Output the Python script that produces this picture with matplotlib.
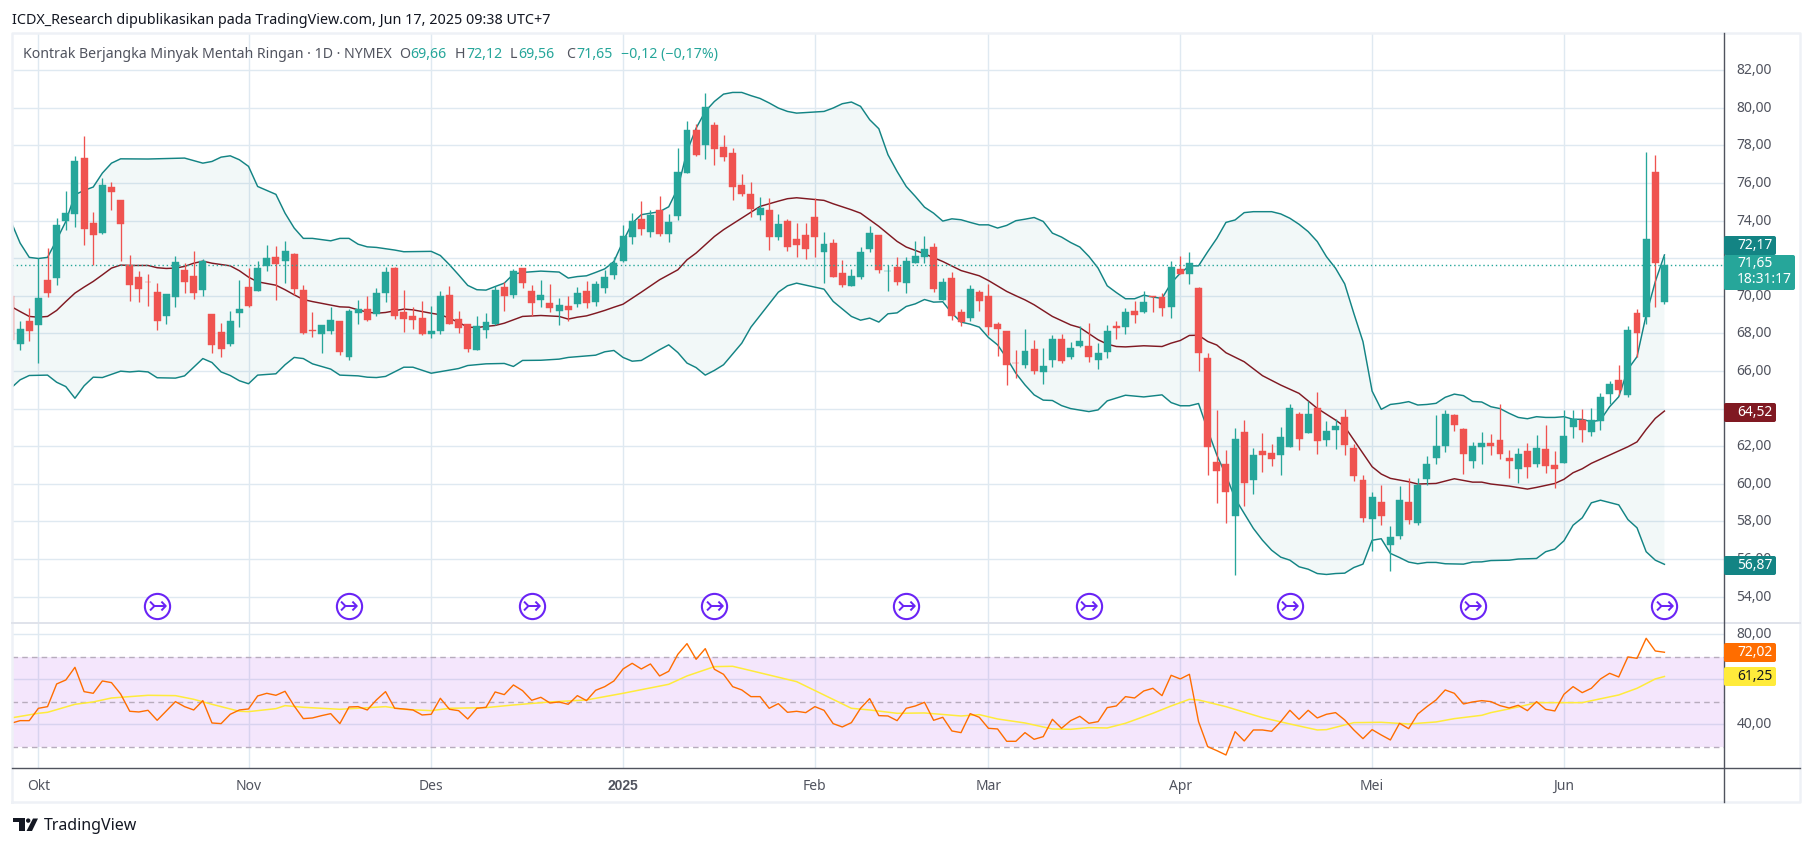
import matplotlib
matplotlib.use("Agg")
import matplotlib.pyplot as plt
from matplotlib.patches import Circle, FancyBboxPatch, Polygon
from matplotlib.transforms import ScaledTranslation

plt.rcParams['font.family'] = ['Noto Sans', 'DejaVu Sans']

# daily candles, index 0 is the first bar on the left edge
opens = [69.96,67.44,68.67,68.42,70.85,70.97,73.95,74.37,77.32,73.86,73.35,75.78,75.10,71.61,71.01,70.74,70.21,68.93,69.94,71.38,
         71.06,70.32,69.04,68.08,67.44,69.09,70.47,70.26,71.59,72.07,71.86,72.23,70.32,68.19,67.97,68.13,68.67,66.75,69.09,69.31,
         69.04,70.16,71.49,69.14,68.93,68.83,67.97,68.13,70.05,68.77,68.51,67.12,68.19,68.51,70.47,70.05,71.49,70.26,69.78,69.62,
         69.20,69.47,69.57,70.26,69.68,70.42,71.11,71.84,73.14,74.09,73.40,74.57,73.30,74.25,76.54,78.83,78.03,79.09,77.92,77.60,
         75.90,75.42,74.31,74.57,73.14,73.99,73.03,73.24,74.20,72.34,72.82,71.22,70.53,71.01,72.50,73.24,71.29,71.54,70.69,71.75,
         72.07,72.60,69.78,70.95,69.15,68.83,70.21,70.00,68.51,68.13,66.43,66.33,67.18,65.95,66.59,67.71,66.75,67.34,67.34,66.59,
         67.02,68.40,68.35,69.20,69.15,70.00,69.94,69.41,71.43,71.17,70.42,66.70,61.15,61.05,58.28,62.75,60.20,61.74,61.63,61.53,
         61.95,63.71,62.70,64.03,62.32,62.86,63.55,61.90,60.20,58.12,59.03,56.74,57.22,59.03,57.91,60.25,61.37,62.00,63.65,62.91,
         61.21,61.95,62.17,62.32,61.37,60.78,61.74,61.05,61.85,61.00,61.10,63.02,63.39,62.75,63.34,64.77,65.52,64.72,69.08,68.87,
         76.58,69.66]
highs = [69.96,68.67,69.34,72.00,72.53,74.13,75.58,77.44,78.51,74.47,76.26,76.06,75.10,72.18,71.29,71.17,70.69,70.10,72.12,71.75,
         72.39,71.96,69.04,68.56,69.20,70.85,71.49,71.86,72.71,72.66,72.92,72.27,70.58,69.14,68.45,69.41,68.67,69.31,69.78,70.00,
         70.42,71.54,71.54,70.32,69.41,69.73,69.47,70.26,70.53,69.20,68.51,68.93,69.09,70.53,70.74,71.43,71.49,70.58,70.85,70.63,
         69.89,70.00,70.47,70.79,70.79,71.38,72.07,73.77,74.41,75.05,74.57,75.32,74.36,77.87,79.30,79.15,80.79,79.25,78.56,77.87,
         76.49,76.06,75.26,75.21,74.36,74.09,73.88,73.88,75.21,73.40,73.03,71.91,71.43,72.60,73.72,73.24,71.65,72.07,72.07,72.92,
         73.19,72.82,70.95,71.27,69.31,70.58,70.32,70.64,68.61,68.13,67.12,68.24,67.66,67.23,67.92,67.98,67.55,68.40,68.56,67.50,
         68.45,68.67,69.36,69.73,70.26,70.00,70.16,71.86,72.12,72.34,70.48,66.97,63.92,61.79,62.96,63.39,61.90,62.70,62.11,63.02,
         64.24,63.81,64.40,64.88,63.34,63.44,63.97,62.11,60.46,59.56,59.93,57.75,59.88,60.30,60.30,61.47,63.65,63.92,63.71,62.96,
         62.22,62.75,62.64,64.24,61.79,61.90,62.17,62.59,63.12,61.74,63.92,63.92,63.97,64.03,64.82,65.46,66.32,68.39,69.30,77.65,
         77.49,72.12]
lows = [67.66,67.12,67.62,66.41,69.91,70.58,73.51,73.68,72.71,71.61,73.30,74.57,71.86,69.73,69.68,69.47,68.19,68.51,69.41,70.16,
        69.84,70.00,66.97,66.75,67.34,68.35,69.41,70.26,71.33,69.78,70.69,70.05,67.97,67.82,66.97,67.97,66.86,66.59,68.51,68.67,
        68.93,69.68,68.77,68.08,68.24,67.92,67.76,67.97,68.51,68.03,67.02,67.12,67.76,68.45,69.20,69.89,70.42,68.93,69.41,69.14,
        68.45,68.67,69.41,69.36,69.47,70.16,70.90,71.81,72.76,73.24,73.14,73.19,72.87,74.04,76.54,77.44,77.28,76.97,77.18,75.10,
        75.32,74.20,74.04,72.44,72.98,72.39,72.07,71.96,72.07,70.69,71.01,70.48,70.53,70.90,72.34,71.22,70.26,70.58,70.16,71.75,
        71.75,70.21,69.78,68.72,68.40,68.67,69.20,67.92,66.81,65.26,65.64,66.17,65.85,65.32,66.22,66.43,66.65,67.28,66.49,66.11,
        66.70,67.71,67.98,68.56,69.09,69.15,68.93,68.83,71.17,70.64,66.01,60.46,58.97,57.91,55.14,58.81,59.45,60.62,60.94,60.46,
        61.95,61.79,62.70,61.58,62.00,61.85,61.53,60.14,57.96,56.42,57.80,55.36,57.06,57.86,57.80,59.93,61.05,61.69,62.80,60.52,
        60.84,61.05,61.53,61.31,60.30,60.04,60.30,60.89,60.57,59.77,61.10,62.43,62.22,62.54,62.86,64.24,64.72,64.61,66.76,68.50,
        69.40,69.56]
closes = [67.66,68.22,68.13,69.87,70.12,73.77,74.39,77.16,73.56,73.24,75.90,75.53,73.84,70.58,70.37,70.71,68.67,70.10,71.80,70.74,
          70.16,71.86,67.39,67.18,68.67,69.31,69.47,71.49,72.02,71.70,72.39,70.37,68.03,68.15,68.45,68.72,67.02,69.20,69.31,68.72,
          70.16,71.27,68.93,68.77,68.72,67.97,68.13,70.00,68.51,68.29,67.18,68.40,68.61,70.32,70.00,71.33,70.69,69.62,70.05,69.36,
          69.52,69.25,70.16,69.62,70.63,71.01,71.75,73.19,73.99,73.56,74.31,73.30,73.93,76.59,78.83,77.50,80.05,77.82,77.39,75.79,
          75.42,74.62,74.68,73.14,73.83,72.60,72.71,72.50,73.14,72.76,71.01,70.58,71.06,72.34,73.35,71.38,71.33,70.74,71.86,72.12,
          72.50,70.37,70.74,68.93,68.61,70.37,69.73,68.35,68.24,66.33,66.40,67.07,66.01,66.27,67.71,66.54,67.23,67.60,66.75,66.97,
          68.13,68.30,69.15,68.99,69.68,69.94,69.36,71.54,71.17,71.75,66.97,61.97,60.68,59.56,62.38,60.04,61.53,61.53,61.31,62.48,
          64.03,62.38,63.71,62.27,62.80,63.07,62.06,60.41,58.18,59.29,58.28,57.17,59.13,58.07,59.93,61.05,62.00,63.71,63.12,61.58,
          62.00,62.17,62.00,61.58,61.21,61.58,60.89,61.90,60.94,60.78,62.54,63.44,62.86,63.39,64.61,65.30,65.00,68.18,68.02,73.02,
          71.74,71.65]

# bollinger bands, read at the bars listed
upper_idx = [0,1,2,3,4,5,6,7,8,9,10,11,12,15,19,21,22,23,24,25,26,27,28,29,30,31,32,33,35,36,37,38,39,40,42,43,46,47,48,49,50,51,52,53,54,55,56,58,60,61,62,63,64,65,66,
             67,68,69,71,72,73,74,75,76,77,78,79,80,81,82,83,84,85,86,88,89,90,91,92,93,94,95,96,97,98,99,100,101,102,103,104,105,106,107,108,109,110,111,112,113,114,115,116,117,118,119,120,121,122,123,124,125,126,127,128,129,130,
             131,132,133,134,135,136,138,139,140,141,142,143,144,145,146,147,148,149,150,151,152,153,154,155,156,157,158,159,160,161,162,163,164,165,166,167,168,169,170,171,172,173,174,175,176,177,178,179,180,181]
upper_val = [73.95,72.80,72.04,71.98,72.04,72.97,73.95,75.37,75.60,75.78,76.52,77.05,77.28,77.27,77.32,77.05,77.14,77.37,77.44,77.23,76.88,75.81,75.60,75.39,74.39,73.60,73.05,73.05,72.92,73.05,73.05,72.74,72.60,72.57,72.43,72.34,72.36,72.14,71.65,71.11,70.55,70.32,70.30,70.49,70.67,71.15,71.24,71.31,71.26,70.94,71.02,71.06,71.24,71.43,71.82,
             72.89,73.86,74.31,74.47,74.73,75.72,77.67,78.91,79.80,80.33,80.72,80.81,80.81,80.64,80.49,80.25,79.98,79.80,79.71,79.77,79.80,79.98,80.21,80.30,80.07,79.36,78.88,77.50,76.61,75.81,75.28,74.71,74.39,73.97,74.09,74.04,73.90,73.77,73.77,73.60,73.74,73.99,74.07,74.16,73.95,73.33,73.12,72.83,72.59,72.09,71.47,70.53,70.17,69.84,69.84,70.03,69.93,69.86,70.67,71.20,71.59,71.59,
             72.34,73.05,73.90,74.03,74.42,74.47,74.47,74.35,74.12,73.80,73.41,72.88,72.08,71.46,70.63,69.06,67.56,64.93,63.96,64.22,64.28,64.37,64.19,64.22,64.28,64.60,64.77,64.69,64.38,64.35,64.10,64.00,63.75,63.53,63.46,63.57,63.53,63.53,63.57,63.43,63.43,63.30,63.39,64.10,64.63,66.09,66.76,68.98,70.75,72.17]

basis_idx = [0,1,2,3,4,5,6,7,8,9,10,11,12,13,15,16,17,18,19,20,21,22,24,25,26,27,29,30,31,32,33,35,36,37,38,39,40,41,43,44,46,47,48,49,50,51,52,53,54,55,56,58,60,61,62,63,64,65,66,
             67,69,71,73,74,75,77,78,80,82,84,85,86,88,89,90,92,93,95,97,98,100,102,104,106,107,109,110,111,112,114,116,117,119,120,121,122,124,126,127,128,129,130,131,132,133,135,137,139,141,143,145,146,147,148,149,150,151,153,154,156,158,160,161,162,164,166,167,169,170,171,172,173,175,177,178,179,180,181]
basis_val = [69.43,69.16,68.90,68.86,68.90,69.22,69.69,70.14,70.46,70.76,71.11,71.47,71.63,71.61,71.61,71.49,71.45,71.47,71.56,71.73,71.84,71.73,71.59,71.33,70.99,70.74,70.56,70.32,70.05,69.80,69.69,69.50,69.41,69.39,69.25,69.13,69.07,69.11,69.29,69.25,69.07,68.99,68.81,68.58,68.33,68.31,68.37,68.42,68.54,68.72,68.90,68.95,68.90,68.76,68.86,68.93,69.07,69.22,69.39,
             69.55,70.19,70.85,71.38,71.91,72.27,73.15,73.51,74.13,74.75,75.03,75.16,75.21,75.12,75.07,74.89,74.57,74.39,73.69,72.89,72.59,72.23,71.82,71.34,71.06,70.81,70.23,70.00,69.78,69.52,68.90,68.45,68.31,67.66,67.43,67.30,67.28,67.34,67.30,67.48,67.62,67.89,67.90,67.57,67.38,66.97,66.49,65.75,65.25,64.81,64.01,63.39,63.04,62.33,61.62,60.91,60.52,60.29,60.11,59.99,60.02,60.27,60.09,60.09,59.99,59.88,59.72,59.81,60.02,60.24,60.59,60.80,61.09,61.53,61.97,62.23,62.89,63.48,63.87]

lower_idx = [0,1,2,4,5,6,7,8,9,10,12,13,14,15,16,18,19,21,22,23,24,25,26,27,29,30,31,32,33,35,36,38,39,40,41,43,44,46,49,50,52,54,55,56,58,60,61,64,65,66,
             67,68,69,71,72,73,74,75,76,77,78,80,81,83,84,85,86,89,90,92,93,94,95,96,97,98,99,100,101,102,103,104,105,106,107,108,109,110,111,112,113,114,115,116,118,119,120,122,124,126,127,128,129,130,
             131,132,133,134,135,136,137,138,139,140,141,142,143,144,145,146,147,148,149,150,151,152,153,154,155,156,157,159,160,161,162,164,165,167,168,169,170,171,172,173,174,176,177,178,179,180,181]
lower_val = [65.09,65.53,65.76,65.78,65.40,65.17,64.55,65.21,65.67,65.65,65.99,65.95,65.99,65.95,65.64,65.62,65.74,66.66,66.45,65.95,65.76,65.48,65.32,65.78,65.85,66.33,66.72,66.66,66.38,66.10,65.78,65.74,65.67,65.65,65.71,66.20,66.20,65.88,66.13,66.29,66.38,66.40,66.24,66.56,66.57,66.63,66.72,66.84,67.02,67.09,
             66.72,66.52,66.56,67.13,67.39,66.98,66.42,66.18,65.78,66.03,66.33,67.48,68.33,69.57,70.19,70.53,70.67,70.35,69.70,68.90,68.70,68.81,68.60,69.04,69.09,69.43,69.57,69.80,69.66,69.68,69.07,68.60,68.49,68.33,67.78,67.39,66.68,65.88,65.26,64.73,64.45,64.43,64.16,64.00,63.84,63.93,64.41,64.71,64.62,64.73,64.32,64.15,64.15,64.27,
             62.86,61.53,60.46,59.22,58.42,57.63,57.00,56.47,56.10,55.94,55.59,55.46,55.23,55.18,55.23,55.25,55.55,55.73,57.00,57.08,56.30,56.08,55.84,55.75,55.82,55.82,55.75,55.73,55.84,55.85,55.92,55.94,56.00,56.03,56.39,56.53,56.97,57.80,58.19,58.99,59.13,58.88,58.10,57.66,56.39,55.94,55.72]

# RSI, one value per bar
rsi = [40.45,41.63,41.63,47.11,47.85,57.93,59.70,65.33,54.52,53.78,59.26,58.52,53.48,45.78,45.48,46.22,41.78,45.93,50.08,47.85,
       46.37,50.52,40.59,40.30,44.45,46.37,46.82,52.59,53.78,52.89,54.67,48.15,42.52,42.82,43.85,44.74,40.30,47.70,47.85,46.37,
       50.82,54.52,47.11,46.82,46.37,44.15,44.45,51.56,46.67,46.07,42.37,47.11,47.56,54.37,53.19,57.48,54.96,50.67,52.00,49.48,
       49.93,48.89,52.74,50.52,55.11,56.74,59.26,64.59,67.11,64.59,66.82,61.48,63.56,71.11,75.85,68.89,73.63,64.45,62.22,56.74,
       55.26,52.30,52.30,47.11,49.19,45.33,45.78,45.19,47.85,46.22,40.30,38.82,40.74,47.11,51.41,43.85,43.70,41.63,47.11,48.15,
       49.78,41.78,43.11,37.04,36.30,44.74,43.11,38.22,37.93,32.45,32.45,36.30,33.33,34.52,42.22,38.22,41.63,43.56,40.45,41.19,
       47.41,48.15,52.30,51.70,54.81,56.00,52.74,61.78,60.15,62.22,41.19,30.08,28.30,26.37,36.74,32.59,37.48,37.48,36.89,41.19,
       46.22,42.22,46.22,42.82,44.45,45.19,41.93,37.48,33.63,37.63,35.26,33.04,40.45,38.07,44.59,47.85,50.82,55.26,53.78,49.04,
       49.93,50.52,50.08,48.30,47.26,48.45,46.07,50.08,46.67,45.93,53.33,56.74,54.07,56.00,60.15,62.67,61.04,69.93,69.33,78.22,
       72.59,72.02]

rsi_ma_idx = [0,3,4,7,9,11,13,15,18,20,22,25,26,29,30,32,36,41,43,46,48,52,55,59,63,67,72,74,77,79,81,86,89,92,94,97,
              100,104,106,108,111,114,116,118,120,122,125,127,129,130,133,137,140,143,144,147,150,153,156,158,161,162,165,167,172,176,178,180,181]
rsi_ma_val = [42.82,44.89,45.33,48.89,49.93,51.70,52.30,52.89,52.74,51.11,48.89,45.78,45.63,46.96,48.30,47.56,46.67,47.85,46.67,46.07,47.11,47.41,48.59,49.93,50.82,53.78,57.78,61.48,65.63,65.78,63.85,58.96,53.04,47.11,46.37,44.89,
              45.04,43.70,44.30,42.37,40.59,37.93,37.78,38.52,38.37,40.45,44.89,48.15,51.11,50.82,47.85,42.96,40.15,37.48,37.63,40.74,40.89,40.15,41.04,42.52,44.00,45.19,47.71,49.63,49.63,53.04,56.00,60.15,61.25]

month_idx = [3,26,46,67,88,107,128,149,170]
month_labels = ['Okt','Nov','Des','2025','Feb','Mar','Apr','Mei','Jun']
price_ticks = [54,56,58,60,62,64,66,68,70,72,74,76,78,80,82]
rsi_ticks = [40,60,80]
rsi_tick_labels = ['40,00','','80,00']
marker_idx = [16,37,57,77,98,118,140,160,181]
marker_level = 53.48
last_close = 71.65

GREEN = '#26a69a'
RED = '#ef5350'
TEAL = '#138484'
GRID = '#dfe9f1'
TXT = '#50535e'
PURPLE = '#6a24f5'

W, H = 1814, 847
fig = plt.figure(figsize=(W/100, H/100), dpi=100, facecolor='white')

def pane(x0, y0, x1, y1):
    return fig.add_axes([x0/W, 1-y1/H, (x1-x0)/W, (y1-y0)/H], facecolor='white')

ax = pane(12, 33, 1724, 623)
ax2 = pane(12, 623, 1724, 768)

# 9.135 px per bar, bar 3 sits at x=38.4
xlim = ((12-38.4)/9.135+3, (1724-38.4)/9.135+3)
for a in (ax, ax2):
    a.set_xlim(*xlim)
    a.set_xticks(month_idx)
    a.grid(True, color=GRID, lw=1)
    a.set_axisbelow(True)
    for s in a.spines.values():
        s.set_visible(False)
    a.tick_params(length=0)
    a.yaxis.tick_right()

ax.set_ylim(52.6, 83.97)
ax.set_yticks(price_ticks)
ax.set_yticklabels(['%d,00' % p for p in price_ticks], fontsize=10, color=TXT)
ax.tick_params(axis='y', pad=9)
ax.tick_params(axis='x', labelbottom=False)

# bands
ax.fill(upper_idx + lower_idx[::-1], upper_val + lower_val[::-1], color=TEAL, alpha=0.05, lw=0, zorder=1)
ax.plot(upper_idx, upper_val, color=TEAL, lw=1.05, zorder=2)
ax.plot(lower_idx, lower_val, color=TEAL, lw=1.05, zorder=2)
ax.plot(basis_idx, basis_val, color='#801922', lw=1.05, zorder=2)

# candles
bar_x = list(range(len(closes)))
colors = [GREEN if c >= o else RED for o, c in zip(opens, closes)]
ax.vlines(bar_x, lows, highs, colors=colors, lw=0.95, zorder=3)
ax.bar(bar_x, [abs(c-o) for o, c in zip(opens, closes)], bottom=[min(o, c) for o, c in zip(opens, closes)],
       width=0.76, color=colors, edgecolor=colors, lw=0.3, zorder=4)

ax.axhline(last_close, color=GREEN, lw=1, ls=(0, (1, 2)), zorder=5)

# dividend style markers
ax.scatter(marker_idx, [marker_level]*len(marker_idx), s=330, facecolor='white', edgecolor=PURPLE, lw=1.5, zorder=6)
for m in marker_idx:
    ax.text(m, marker_level, '\u21a3', color=PURPLE, fontsize=17, ha='center', va='center',
            family='DejaVu Sans', zorder=7)

# RSI pane
ax2.set_ylim(20.58, 85.02)
ax2.set_yticks(rsi_ticks)
ax2.set_yticklabels(rsi_tick_labels, fontsize=10, color=TXT)
ax2.tick_params(axis='y', pad=9)
ax2.set_xticklabels(month_labels, fontsize=10, color=TXT)
ax2.tick_params(axis='x', pad=8)
year_lbl = ax2.get_xticklabels()[3]
year_lbl.set_family('Liberation Sans')
year_lbl.set_fontweight('bold')
ax2.axhspan(30, 70, color='#aa3fe8', alpha=0.13, lw=0, zorder=1)
for lvl in (30, 50, 70):
    ax2.axhline(lvl, color='#b7acbd', lw=1, ls=(0, (4, 3)), zorder=2)
ax2.plot(rsi_ma_idx, rsi_ma_val, color='#ffeb3b', lw=1.1, zorder=3)
ax2.plot(bar_x, rsi, color='#ff6d00', lw=1.0, zorder=4)

# tick labels sit a little above their grid lines in the reference
for a in (ax, ax2):
    for lbl in a.get_yticklabels():
        lbl.set_transform(lbl.get_transform() + ScaledTranslation(0, 1.5/100, fig.dpi_scale_trans))

# overlay in pixel coordinates for frame, header and value labels
ov = fig.add_axes([0, 0, 1, 1], facecolor='none')
ov.set_xlim(0, W)
ov.set_ylim(H, 0)
ov.axis('off')
frame = '#eef1f6'
ov.plot([12, 12, 1800, 1800, 12], [802, 33, 33, 802, 802], color=frame, lw=1.8)
ov.plot([12, 1800], [623, 623], color='#e0e3eb', lw=1.4)
ov.plot([12, 1800], [768, 768], color=TXT, lw=1.0)
ov.plot([1724, 1724], [33, 802], color=TXT, lw=1.0)

ov.text(12, 21, 'ICDX_Research dipublikasikan pada TradingView.com, Jun 17, 2025 09:38 UTC+7',
        fontsize=10.35, color='#131722', va='center')
ov.text(23, 54.5, 'Kontrak Berjangka Minyak Mentah Ringan \u00b7 1D \u00b7 NYMEX', fontsize=10.2, color=TXT, va='center')
for x, key, val, off in [(399, 'O', '69,66', 11), (455, 'H', '72,12', 11), (510, 'L', '69,56', 8), (566, 'C', '71,65', 10)]:
    ov.text(x, 54.5, key, fontsize=10.2, color=TXT, va='center')
    ov.text(x+off, 54.5, val, fontsize=10.2, color=GREEN, va='center')
ov.text(621, 54.5, '\u22120,12 (\u22120,17%)', fontsize=10.2, color=GREEN, va='center')

def box(y0, y1, x1, color, lines, tcolor='white'):
    ov.add_patch(FancyBboxPatch((1724, y0), x1-1724, y1-y0, boxstyle='round,pad=0,rounding_size=2',
                                fc=color, ec='none', zorder=10))
    for yy, s in lines:
        ov.text(1737, yy, s, fontsize=10, color=tcolor, ha='left', va='center', zorder=11)

box(236, 255, 1776, '#138484', [(245.5, '72,17')])
box(255, 290, 1795, GREEN, [(263.5, '71,65'), (279.5, '18:31:17')])
box(403, 422, 1776, '#801922', [(412.5, '64,52')])
box(556, 575, 1776, '#138484', [(565.5, '56,87')])
box(643, 662, 1776, '#ff6d00', [(652.5, '72,02')])
box(667, 686, 1776, '#ffeb3b', [(676.5, '61,25')], tcolor='#131722')

# logo
ink = '#131722'
ov.add_patch(Polygon([(13, 818.5), (25, 818.5), (25, 831), (19, 831), (19, 822.5), (13, 822.5)], fc=ink, ec='none'))
ov.add_patch(Circle((28.2, 820.6), 2.2, fc=ink, ec='none'))
ov.add_patch(Polygon([(33, 818.5), (38, 818.5), (32, 831), (26.5, 831)], fc=ink, ec='none'))
ov.text(44, 826.5, 'TradingView', fontsize=11.5, color=ink, va='center')

fig.savefig('out.png', dpi=100)
